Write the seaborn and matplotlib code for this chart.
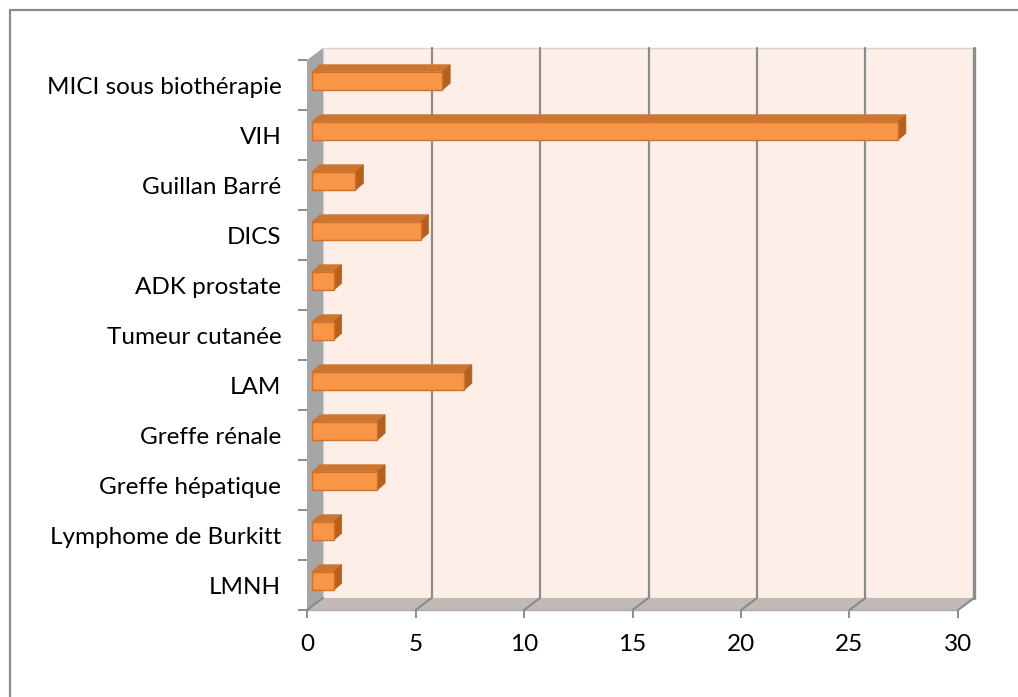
import matplotlib
matplotlib.use("Agg")
import matplotlib.pyplot as plt
import matplotlib.transforms as mtransforms
from matplotlib.patches import Polygon, Rectangle
from matplotlib.lines import Line2D
import numpy as np
import pandas as pd
import seaborn as sns

# Data
categories = ["MICI sous biothérapie", "VIH", "Guillan Barré", "DICS", "ADK prostate",
              "Tumeur cutanée", "LAM", "Greffe rénale", "Greffe hépatique",
              "Lymphome de Burkitt", "LMNH"]
values = [6, 27, 2, 5, 1, 1, 7, 3, 3, 1, 1]
x_ticks = [0, 5, 10, 15, 20, 25, 30]

# Colours
FRONT = "#F79646"
EDGE = "#D2722A"
TOP = "#CC7632"
SIDE = "#B4611F"
WALL = "#FDEFE7"
SIDEWALL = "#A6A6A6"
FLOOR = "#C3BAB7"
GRID = "#8C8C8C"

sns.set_theme(style="white")
plt.rcParams["font.family"] = ["Lato", "DejaVu Sans"]
FS = 17.5

W, H = 1018, 697
DPI = 100
fig = plt.figure(figsize=(W / DPI, H / DPI), dpi=DPI)
fig.patch.set_facecolor("white")
ax = fig.add_axes([307 / W, (H - 610) / H, 651 / W, 550 / H])
ax.patch.set_visible(False)

df = pd.DataFrame({"cat": categories, "val": values})
sns.barplot(data=df, x="val", y="cat", orient="h", width=0.37, color=FRONT,
            saturation=1, edgecolor=EDGE, linewidth=1.0, ax=ax, zorder=6)
ax.set_xlim(0, 30)
ax.set_ylim(len(categories) - 0.5, -0.5)

# Depth offsets in pixels (display units)
BACK = (16, 12)
BAR_FRONT = (5, 4)
BAR_BACK = (13, 11)

ident = mtransforms.IdentityTransform()


def disp(x, y, off=(0, 0)):
    p = ax.transData.transform((x, y))
    return (p[0] + off[0], p[1] + off[1])


y0, y1 = len(categories) - 0.5, -0.5   # bottom, top in data
xmin, xmax = 0, 30

# Back wall
wall = Polygon([disp(xmin, y0, BACK), disp(xmax, y0, BACK), disp(xmax, y1, BACK),
                disp(xmin, y1, BACK)], closed=True, transform=ident,
               facecolor=WALL, edgecolor="#D4D4D4", linewidth=1.0, zorder=0, clip_on=False)
ax.add_patch(wall)

# Gridlines on the back wall and across the floor
for xv in x_ticks[1:]:
    ax.add_line(Line2D(*zip(disp(xv, y0, BACK), disp(xv, y1, BACK)), transform=ident,
                       color=GRID, lw=1.6 if xv < 30 else 2.4, zorder=1, clip_on=False))

# Side wall
side = Polygon([disp(xmin, y0), disp(xmin, y0, BACK), disp(xmin, y1, BACK), disp(xmin, y1)],
               closed=True, transform=ident, facecolor=SIDEWALL, edgecolor="none",
               zorder=2, clip_on=False)
ax.add_patch(side)

# Floor
floor = Polygon([disp(xmin, y0), disp(xmax, y0), disp(xmax, y0, BACK), disp(xmin, y0, BACK)],
                closed=True, transform=ident, facecolor=FLOOR, edgecolor="none",
                zorder=2, clip_on=False)
ax.add_patch(floor)
ax.add_line(Line2D(*zip(disp(xmin, y0), disp(xmax, y0)), transform=ident,
                   color="#B0A8A6", lw=1.0, zorder=3, clip_on=False))
for xv in x_ticks:
    ax.add_line(Line2D(*zip(disp(xv, y0), disp(xv, y0, BACK)), transform=ident,
                       color=GRID, lw=1.6, zorder=3, clip_on=False))

# Bars: shift front faces and add top/side faces
for bar in ax.patches:
    if not isinstance(bar, Rectangle) or bar.get_facecolor()[:3] != matplotlib.colors.to_rgb(FRONT):
        continue
    bx, by = bar.get_x(), bar.get_y()
    bw, bh = bar.get_width(), bar.get_height()
    ytop = min(by, by + bh)
    ybot = max(by, by + bh)
    bar.set_transform(ax.transData + mtransforms.Affine2D().translate(*BAR_FRONT))
    bar.set_clip_on(False)
    top = Polygon([disp(bx, ytop, BAR_FRONT), disp(bx + bw, ytop, BAR_FRONT),
                   disp(bx + bw, ytop, BAR_BACK), disp(bx, ytop, BAR_BACK)],
                  closed=True, transform=ident, facecolor=TOP, edgecolor=TOP,
                  linewidth=0.5, zorder=5, clip_on=False)
    right = Polygon([disp(bx + bw, ytop, BAR_FRONT), disp(bx + bw, ybot, BAR_FRONT),
                     disp(bx + bw, ybot, BAR_BACK), disp(bx + bw, ytop, BAR_BACK)],
                    closed=True, transform=ident, facecolor=SIDE, edgecolor=SIDE,
                    linewidth=0.5, zorder=5, clip_on=False)
    ax.add_patch(top)
    ax.add_patch(right)

# Axes, ticks and labels
for s in ax.spines.values():
    s.set_visible(False)
ax.set_xlabel("")
ax.set_ylabel("")
ax.set_xticks(x_ticks)
ax.set_xticklabels([str(v) for v in x_ticks])
ax.set_yticks(np.arange(-0.5, len(categories), 1.0), minor=True)
ax.tick_params(axis="x", which="major", direction="out", length=5.5, width=1.4,
               color=GRID, pad=11.5, labelsize=FS, labelcolor="black", bottom=True)
ax.tick_params(axis="y", which="major", length=0, pad=18.5, labelsize=FS, labelcolor="black")
ax.tick_params(axis="y", which="minor", direction="out", length=6.5, width=1.4,
               color=GRID, left=True)
ax.grid(False)

# Chart frame
fig.add_artist(Line2D([9.5 / W, 1.0], [1 - 9.5 / H, 1 - 9.5 / H], transform=fig.transFigure,
                      color="#8A8A8A", lw=1.6))
fig.add_artist(Line2D([9.5 / W, 9.5 / W], [0, 1 - 9.5 / H], transform=fig.transFigure,
                      color="#8A8A8A", lw=1.6))

fig.savefig("out.png", dpi=DPI)
